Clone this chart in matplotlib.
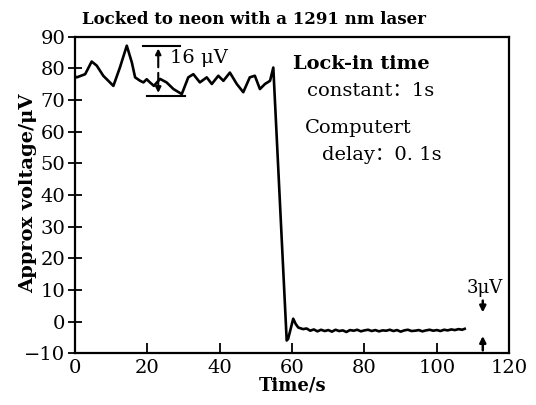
import matplotlib
matplotlib.use("Agg")
import matplotlib.pyplot as plt

# ---- data ----
time_s = [0, 0.5, 2.8, 4.6, 6.0, 7.8, 10.6, 12.4, 14.3, 15.7, 16.6, 18.0, 18.9, 19.8,
          20.7, 21.8, 23.5, 25.3, 27.2, 29.5, 31.3, 32.7, 34.5, 36.4, 37.8, 39.6,
          41.0, 42.8, 44.7, 46.5, 48.3, 49.7, 51.1, 52.5, 53.9, 54.8,
          58.5, 58.9, 60.3, 61.0, 61.7, 63.0, 64.0, 65.0, 66.0, 67.0, 68.0, 69.0, 70.0,
          71.0, 72.0, 73.0, 74.0, 75.0, 76.0, 77.0, 78.0, 79.0, 80.0, 81.0, 82.0, 83.0,
          84.0, 85.0, 86.0, 87.0, 88.0, 89.0, 90.0, 91.0, 92.0, 93.0, 94.0, 95.0, 96.0,
          97.0, 98.0, 99.0, 100.0, 101.0, 102.0, 103.0, 104.0, 105.0, 106.0, 107.0, 107.7]
voltage_uv = [77.5, 77.2, 78.2, 82.2, 80.9, 77.7, 74.5, 80.3, 87.2, 81.9, 77.2, 76.1, 75.6, 76.6,
              75.6, 74.5, 76.7, 75.6, 73.5, 71.9, 77.2, 78.2, 75.6, 77.2, 75.1, 77.7,
              76.1, 78.7, 75.1, 72.5, 77.2, 77.7, 73.5, 75.1, 76.1, 80.3,
              -6.0, -5.5, 0.9, -0.8, -1.9, -2.4, -2.2, -2.9, -2.5, -3.1, -2.6, -3.0, -2.7,
              -3.2, -2.6, -3.0, -2.8, -3.3, -2.7, -2.9, -2.6, -3.1, -2.8, -2.6, -3.0, -2.7,
              -3.1, -2.8, -2.9, -2.6, -3.0, -2.7, -3.2, -2.8, -2.6, -3.0, -2.9, -2.7, -3.1,
              -2.8, -2.6, -2.9, -2.7, -3.0, -2.6, -2.8, -2.5, -2.7, -2.4, -2.6, -2.3]

x_ticks = [0, 20, 40, 60, 80, 100, 120]
y_ticks = [-10, 0, 10, 20, 30, 40, 50, 60, 70, 80, 90]

title = "Locked to neon with a 1291 nm laser"
x_label = "Time/s"
y_label = "Approx voltage/\u03bcV"

serif = ["DejaVu Serif", "Noto Sans CJK SC"]

fig = plt.figure(figsize=(5.36, 4.05), dpi=100)
ax = fig.add_axes([0.140, 0.128, 0.810, 0.781])

ax.plot(time_s, voltage_uv, color="black", lw=1.9, solid_joinstyle="round")

ax.set_xlim(0, 120)
ax.set_ylim(-10, 90)
ax.set_xticks(x_ticks)
ax.set_yticks(y_ticks)
ax.tick_params(axis="x", direction="in", length=7, width=1.3, labelsize=14, pad=4)
ax.tick_params(axis="y", direction="inout", length=10, width=1.3, labelsize=14, pad=2)
for lab in ax.get_xticklabels() + ax.get_yticklabels():
    lab.set_family(serif)
for sp in ax.spines.values():
    sp.set_linewidth(1.6)

ax.set_xlabel(x_label, family=serif, fontsize=13, fontweight="bold", labelpad=0)
ax.set_ylabel(y_label, family=serif, fontsize=14, fontweight="bold")
ax.yaxis.set_label_coords(-0.088, 0.506)
fig.text(0.474, 0.952, title, family=serif, fontsize=12, fontweight="bold",
         ha="center", va="center")

# 16 uV annotation
ax.plot([18.8, 29.0], [87.2, 87.2], color="black", lw=1.5)
ax.plot([20.0, 30.4], [71.4, 71.4], color="black", lw=1.5)
ax.annotate("", xy=(23.0, 87.2), xytext=(23.0, 79.5),
            arrowprops=dict(arrowstyle="-|>", color="black", lw=1.5, mutation_scale=8))
ax.annotate("", xy=(23.0, 71.4), xytext=(23.0, 79.5),
            arrowprops=dict(arrowstyle="-|>", color="black", lw=1.5, mutation_scale=8))
ax.text(26.2, 83.4, "16 \u03bcV", family=serif, fontsize=14, va="center", ha="left")

# 3 uV annotation
ax.text(113.3, 10.5, "3\u03bcV", family=serif, fontsize=13, va="center", ha="center")
ax.annotate("", xy=(112.7, 2.0), xytext=(112.7, 7.5),
            arrowprops=dict(arrowstyle="-|>", color="black", lw=1.8, mutation_scale=9))
ax.annotate("", xy=(112.7, -3.7), xytext=(112.7, -10.0),
            arrowprops=dict(arrowstyle="-|>", color="black", lw=1.8, mutation_scale=9))

# settings text
ax.text(60.2, 81.5, "Lock-in time", family=serif, fontsize=14, fontweight="bold", va="center")
ax.text(64.1, 73.0, "constant\uff1a1s", family=serif, fontsize=14, va="center")
ax.text(63.5, 61.3, "Computert", family=serif, fontsize=14, va="center")
ax.text(68.2, 52.5, "delay\uff1a0. 1s", family=serif, fontsize=14, va="center")

fig.savefig("out.png", dpi=100)
